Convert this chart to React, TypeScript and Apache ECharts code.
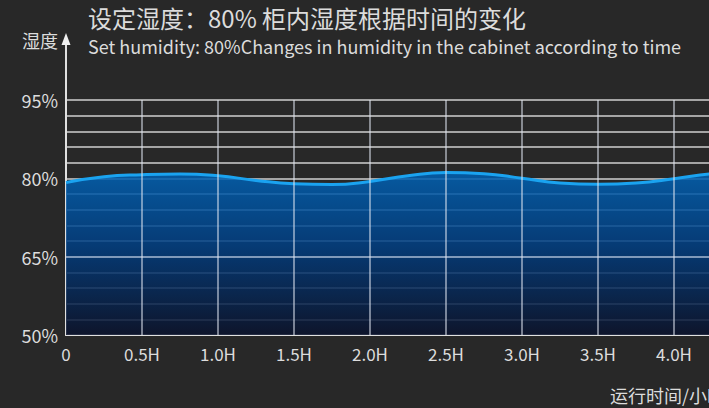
import React, { useEffect, useRef } from "react";
import * as echarts from "echarts";

const titleText = "设定湿度：80% 柜内湿度根据时间的变化";
const subtitleText = "Set humidity: 80%Changes in humidity in the cabinet according to time";
const yAxisName = "湿度";
const xAxisName = "运行时间/小时";

const times = [0, 0.25, 0.5, 0.75, 1.0, 1.25, 1.5, 1.75, 2.0, 2.25, 2.5, 2.75, 3.0, 3.25, 3.5, 3.75, 4.0, 4.25, 4.5];
const humidity = [79.2, 80.3, 80.7, 80.85, 80.5, 79.6, 78.95, 78.8, 79.4, 80.5, 81.1, 80.9, 80.0, 79.1, 78.85, 79.1, 79.9, 80.9, 81.3];

const yLabelValues = [50, 65, 80, 95];
const yMarkValues = [65];
const xGridValues = [0.5, 1.0, 1.5, 2.0, 2.5, 3.0, 3.5, 4.0];
const yMin = 50;
const yMax = 95;
const yStep = 3;
const xMin = 0;
const xMax = 4.5;
const xStep = 0.5;

const TEXT = "#dcdcdc";
const BG = "#282828";
const FONT = '"Noto Sans CJK SC", "Noto Sans", sans-serif';

export default function App() {
  const ref = useRef<HTMLDivElement>(null);
  useEffect(() => {
    if (!ref.current) return;
    const chart = echarts.init(ref.current, null, { renderer: "svg" });
    const data = times.map((t, i) => [t, humidity[i]]);
    chart.setOption({
      animation: false,
      backgroundColor: BG,
      textStyle: { fontFamily: FONT },
      grid: { left: 66, right: 50, top: 100, bottom: 73, containLabel: false },
      xAxis: {
        type: "value",
        min: xMin,
        max: xMax,
        interval: xStep,
        axisLine: { show: true, lineStyle: { color: "#e0e0e0", width: 2 } },
        axisTick: { show: false },
        axisLabel: {
          color: TEXT,
          fontSize: 17,
          margin: 10,
          fontFamily: FONT,
          formatter: (v: number) => (v === 0 ? "0" : v >= xMax ? "" : v.toFixed(1) + "H"),
        },
        splitLine: { show: false },
      },
      yAxis: {
        type: "value",
        min: yMin,
        max: yMax,
        interval: yStep,
        axisLine: { show: true, lineStyle: { color: "#e0e0e0", width: 2 } },
        axisTick: { show: false },
        axisLabel: {
          color: TEXT,
          fontSize: 18,
          margin: 8,
          fontFamily: FONT,
          formatter: (v: number) => (yLabelValues.indexOf(Math.round(v)) >= 0 ? Math.round(v) + "%" : ""),
        },
        splitLine: { show: true, lineStyle: { color: "#cfcfcf", width: 1.5 } },
      },
      series: [
        {
          type: "line",
          data,
          smooth: true,
          symbol: "none",
          lineStyle: { color: "#1aa3f0", width: 3 },
          areaStyle: {
            origin: "start",
            opacity: 1,
            color: new echarts.graphic.LinearGradient(0, 0, 0, 1, [
              { offset: 0, color: "rgba(0,98,180,0.86)" },
              { offset: 0.45, color: "rgba(0,62,130,0.86)" },
              { offset: 1, color: "rgba(10,18,44,0.87)" },
            ]),
          },
          markLine: {
            silent: true,
            symbol: ["none", "none"],
            label: { show: false },
            lineStyle: { color: "rgba(222,230,240,0.7)", width: 1.5, type: "solid" },
            data: [
              ...yMarkValues.map((v) => ({ yAxis: v })),
              ...xGridValues.map((v) => ({ xAxis: v })),
            ],
          },
        },
      ],
      graphic: [
        {
          type: "text",
          left: 88,
          top: 5,
          style: { text: titleText, fill: TEXT, font: `24px ${FONT}` },
        },
        {
          type: "text",
          left: 88,
          top: 37,
          style: { text: subtitleText, fill: TEXT, font: `18px ${FONT}` },
        },
        {
          type: "text",
          left: 22,
          top: 31,
          style: { text: yAxisName, fill: TEXT, font: `18px ${FONT}` },
        },
        {
          type: "line",
          shape: { x1: 66, y1: 100, x2: 66, y2: 42 },
          style: { stroke: "#e0e0e0", lineWidth: 2 },
        },
        {
          type: "polygon",
          shape: { points: [[66, 33], [61.5, 45], [70.5, 45]] },
          style: { fill: "#f0f0f0" },
        },
        {
          type: "text",
          left: 610,
          top: 386,
          style: { text: xAxisName, fill: TEXT, font: `18px ${FONT}` },
        },
      ],
    });
    return () => chart.dispose();
  }, []);
  return (
    <div style={{ position: "fixed", left: 0, top: 0, width: 709, height: 408, overflow: "hidden", background: BG }}>
      <div ref={ref} style={{ width: 800, height: 408 }} />
    </div>
  );
}
